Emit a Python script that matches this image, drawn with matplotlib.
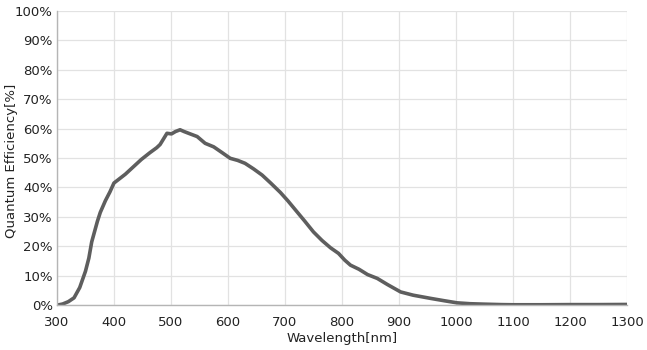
import matplotlib
matplotlib.use("Agg")
import matplotlib.pyplot as plt
from matplotlib.ticker import FuncFormatter

# wavelength [nm] and quantum efficiency [%]
wavelength = [300, 310, 320, 330, 340, 350, 356, 361, 366, 371, 376, 385, 393, 400,
              410, 420, 434, 448, 463, 475, 481, 487, 493, 501, 508, 516, 523, 531,
              546, 560, 575, 590, 604, 617, 630, 645, 660, 675, 692, 705, 720,
              735, 750, 765, 780, 794, 805, 815, 830, 845, 862, 880, 903, 925,
              956, 980, 1002, 1025, 1050, 1080, 1100, 1150, 1200, 1250, 1300]
qe = [0.0, 0.4, 1.2, 2.5, 6.0, 11.5, 16.0, 21.5, 25.0, 28.5, 31.5, 35.5, 38.5, 41.5,
      43.0, 44.5, 47.0, 49.5, 51.8, 53.5, 54.6, 56.5, 58.4, 58.2, 59.0, 59.6, 59.0, 58.4,
      57.3, 55.0, 53.8, 51.8, 49.9, 49.2, 48.2, 46.3, 44.2, 41.5, 38.3, 35.5, 32.0,
      28.5, 24.9, 22.0, 19.5, 17.6, 15.3, 13.6, 12.2, 10.4, 9.1, 7.0, 4.5, 3.4,
      2.3, 1.5, 0.8, 0.5, 0.35, 0.2, 0.15, 0.15, 0.2, 0.2, 0.25]

x_ticks = list(range(300, 1301, 100))
y_ticks = list(range(0, 101, 10))

fig = plt.figure(figsize=(6.47, 3.5), dpi=100)
ax = fig.add_axes([0.088, 0.128, 0.881, 0.841])

ax.plot(wavelength, qe, color="#5e5e5e", linewidth=2.6,
        solid_capstyle="round", solid_joinstyle="round")

ax.set_xlim(300, 1300)
ax.set_ylim(0, 100)
ax.set_xticks(x_ticks)
ax.set_yticks(y_ticks)
ax.yaxis.set_major_formatter(FuncFormatter(lambda v, p: f"{int(v)}%"))
ax.grid(True, color="#e2e2e2", linewidth=0.9)
ax.set_axisbelow(True)
ax.tick_params(length=0, labelsize=9.5, colors="#222222")
ax.tick_params(axis="x", pad=8)
ax.tick_params(axis="y", pad=3)
for side in ["top", "right"]:
    ax.spines[side].set_visible(False)
for side in ["left", "bottom"]:
    ax.spines[side].set_color("#b5b5b5")
    ax.spines[side].set_linewidth(1.0)

ax.set_xlabel("Wavelength[nm]", fontsize=9.5, color="#222222", labelpad=2)
ax.set_ylabel("Quantum Efficiency[%]", fontsize=9.5, color="#222222")
ax.yaxis.set_label_coords(-0.068, 0.49)

fig.savefig("out.png", dpi=100)
